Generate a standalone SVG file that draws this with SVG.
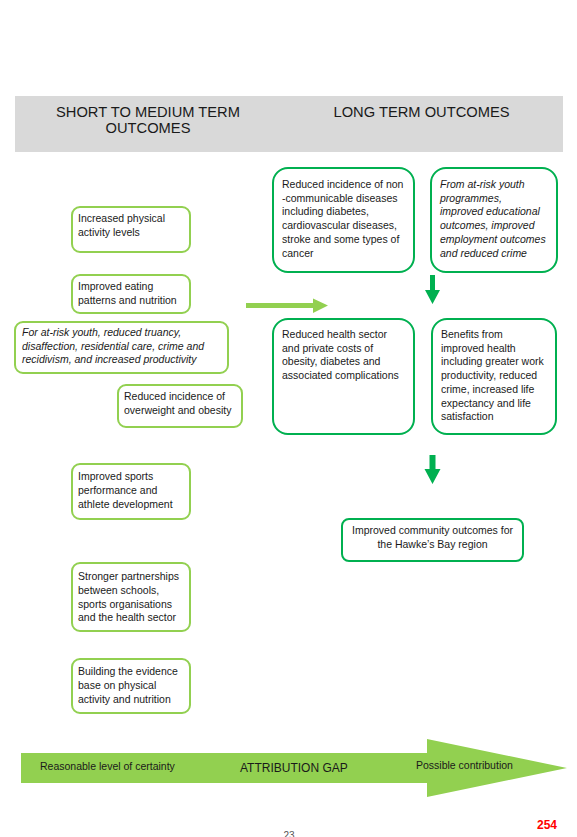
<svg xmlns="http://www.w3.org/2000/svg" width="577" height="837" viewBox="0 0 577 837">
<style>
text{font-family:"Liberation Sans",Arial,sans-serif;fill:#1a1a1a}
.t{font-size:10.5px}
.i{font-style:italic}
.h{font-size:14.7px;text-anchor:middle}
.dk{fill:#fff;stroke:#00b050;stroke-width:2}
.lt{fill:#fff;stroke:#92d050;stroke-width:2}
.ga{fill:#00b050}
.la{fill:#92d050}
</style>
<rect width="577" height="837" fill="#fff"/>
<g id="header">
<rect x="15" y="96" width="548" height="56" fill="#d9d9d9"/>
<text class="h" x="148" y="117">SHORT TO MEDIUM TERM</text>
<text class="h" x="148" y="133">OUTCOMES</text>
<text class="h" x="421.5" y="117">LONG TERM OUTCOMES</text>
</g>
<g id="n-increased-activity">
<rect class="lt" x="72" y="207" width="118" height="45" rx="8"/>
<text class="t" x="78" y="222">Increased physical</text>
<text class="t" x="78" y="236">activity levels</text>
</g>
<g id="n-eating">
<rect class="lt" x="72" y="275" width="118" height="38" rx="8"/>
<text class="t" x="78" y="290">Improved eating</text>
<text class="t" x="78" y="304">patterns and nutrition</text>
</g>
<g id="n-atrisk-youth">
<rect class="lt" x="15" y="322" width="213" height="51" rx="8"/>
<text class="t i" x="22" y="336">For at-risk youth, reduced truancy,</text>
<text class="t i" x="22" y="349.5">disaffection,  residential care, crime and</text>
<text class="t i" x="22" y="363">recidivism, and increased productivity</text>
</g>
<g id="n-overweight">
<rect class="lt" x="118" y="385" width="124" height="42" rx="8"/>
<text class="t" x="124" y="400">Reduced incidence of</text>
<text class="t" x="124" y="414">overweight and obesity</text>
</g>
<g id="n-sports">
<rect class="lt" x="72" y="464" width="118" height="55" rx="8"/>
<text class="t" x="78" y="480">Improved sports</text>
<text class="t" x="78" y="494">performance and</text>
<text class="t" x="78" y="507.5">athlete development</text>
</g>
<g id="n-partnerships">
<rect class="lt" x="72" y="563" width="118" height="68" rx="8"/>
<text class="t" x="78" y="580">Stronger partnerships</text>
<text class="t" x="78" y="594">between schools,</text>
<text class="t" x="78" y="607.5">sports organisations</text>
<text class="t" x="78" y="621">and the health sector</text>
</g>
<g id="n-evidence">
<rect class="lt" x="72" y="659" width="118" height="54" rx="8"/>
<text class="t" x="78" y="675">Building the evidence</text>
<text class="t" x="78" y="689">base on physical</text>
<text class="t" x="78" y="702.5">activity and nutrition</text>
</g>
<g id="n-ncd">
<rect class="dk" x="273" y="168" width="141" height="104" rx="15"/>
<text class="t" x="282" y="188">Reduced incidence of non</text>
<text class="t" x="282" y="201.7">-communicable diseases</text>
<text class="t" x="282" y="215.4">including diabetes,</text>
<text class="t" x="282" y="229">cardiovascular diseases,</text>
<text class="t" x="282" y="242.8">stroke and some types of</text>
<text class="t" x="282" y="256.5">cancer</text>
</g>
<g id="n-youth-long">
<rect class="dk" x="431" y="168" width="126" height="104" rx="15"/>
<text class="t i" x="440" y="188">From at-risk youth</text>
<text class="t i" x="440" y="201.7">programmes,</text>
<text class="t i" x="440" y="215.4">improved educational</text>
<text class="t i" x="440" y="229">outcomes, improved</text>
<text class="t i" x="440" y="242.8">employment outcomes</text>
<text class="t i" x="440" y="256.5">and reduced crime</text>
</g>
<g id="n-costs">
<rect class="dk" x="273" y="319" width="141" height="115" rx="15"/>
<text class="t" x="282" y="338">Reduced health sector</text>
<text class="t" x="282" y="351.7">and private costs of</text>
<text class="t" x="282" y="365.4">obesity, diabetes and</text>
<text class="t" x="282" y="379">associated complications</text>
</g>
<g id="n-benefits">
<rect class="dk" x="432" y="319" width="124" height="115" rx="15"/>
<text class="t" x="441" y="338">Benefits from</text>
<text class="t" x="441" y="351.7">improved health</text>
<text class="t" x="441" y="365.4">including greater work</text>
<text class="t" x="441" y="379">productivity, reduced</text>
<text class="t" x="441" y="392.8">crime, increased life</text>
<text class="t" x="441" y="406.5">expectancy and life</text>
<text class="t" x="441" y="420.2">satisfaction</text>
</g>
<g id="n-community">
<rect class="dk" x="342" y="519" width="181" height="42" rx="7"/>
<text class="t" x="432.5" y="534" text-anchor="middle">Improved community outcomes for</text>
<text class="t" x="432.5" y="548" text-anchor="middle">the Hawke’s Bay region</text>
</g>
<g id="connectors">
<polygon class="la" points="246,303 313,303 313,298.5 328,305.5 313,313 313,308 246,308"/>
<polygon class="ga" points="430,275 435,275 435,290 440,290 432.5,304 425,290 430,290"/>
<polygon class="ga" points="429.5,455 435.5,455 435.5,469 440.5,469 432.5,484 424.5,469 429.5,469"/>
</g>
<g id="attribution-arrow">
<polygon class="la" points="21,753 427,753 427,739 567,768 427,797 427,783 21,783"/>
<text class="t" x="40" y="770">Reasonable level of certainty</text>
<text x="240" y="772" style="font-size:12px">ATTRIBUTION GAP</text>
<text class="t" x="416" y="769">Possible contribution</text>
</g>
<g id="page-numbers">
<text x="547" y="829" text-anchor="middle" style="font-size:12px;font-weight:bold;fill:#ff0000">254</text>
<text x="289" y="839" text-anchor="middle" style="font-size:10px;fill:#555">23</text>
</g>
</svg>
